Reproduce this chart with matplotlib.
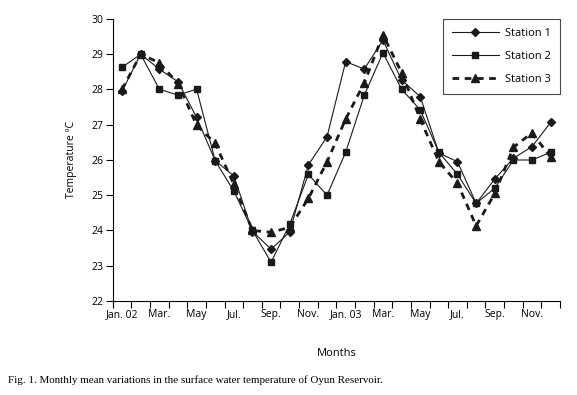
import numpy as np
import matplotlib
matplotlib.use('Agg')
import matplotlib.pyplot as plt

# ── Data (monthly means, Jan 2002 – Dec 2003) ────────────────────────────────
months = ['Jan. 02', 'Feb.', 'Mar.', 'Apr.', 'May', 'Jun.', 'Jul.', 'Aug.', 'Sep.', 'Oct.', 'Nov.', 'Dec.',
          'Jan. 03', 'Feb.', 'Mar.', 'Apr.', 'May', 'Jun.', 'Jul.', 'Aug.', 'Sep.', 'Oct.', 'Nov.', 'Dec.']
station1 = [27.95, 29.0, 28.58, 28.22, 27.21, 25.98, 25.55, 23.97, 23.47, 23.96, 25.86, 26.66,
            28.79, 28.58, 29.40, 28.27, 27.80, 26.20, 25.95, 24.77, 25.46, 26.05, 26.38, 27.07]
station2 = [28.63, 29.0, 28.01, 27.84, 28.01, 25.98, 25.12, 24.00, 23.10, 24.18, 25.59, 25.00,
            26.22, 27.84, 29.04, 28.01, 27.42, 26.22, 25.59, 24.77, 25.20, 26.00, 26.00, 26.22]
station3 = [28.00, 29.0, 28.76, 28.17, 26.99, 26.47, 25.31, 24.00, 23.95, 24.09, 24.91, 25.95,
            27.16, 28.19, 29.55, 28.48, 27.16, 25.95, 25.34, 24.13, 25.05, 26.36, 26.77, 26.08]
tick_labels = ['Jan. 02', 'Mar.', 'May', 'Jul.', 'Sep.', 'Nov.',
               'Jan. 03', 'Mar.', 'May', 'Jul.', 'Sep.', 'Nov.']

plt.rcParams['font.family'] = ['Open Sans', 'DejaVu Sans']

fig = plt.figure(figsize=(5.77, 3.95), dpi=100)
ax = fig.add_axes([112.7 / 577, 1 - 301 / 395, (560 - 112.7) / 577, (301 - 19) / 395])

x = np.arange(len(months))
ax.plot(x, station1, color='#1a1a1a', lw=0.8, marker='D', ms=4.2, label='Station 1')
ax.plot(x, station2, color='#1a1a1a', lw=0.8, marker='s', ms=4.8, label='Station 2')
ax.plot(x, station3, color='#1a1a1a', lw=2.0, ls=(0, (2.4, 2.0)), marker='^', ms=5.5,
        label='Station 3')

ax.set_xlim(-0.5, len(months) - 0.5)
ax.set_ylim(22, 30)
ax.set_yticks(range(22, 31))
ax.set_xticks(np.arange(-0.5, len(months), 1.0))
ax.set_xticklabels([])
ax.set_xticks(np.arange(0, len(months), 2), labels=tick_labels, minor=True)
ax.tick_params(axis='x', which='minor', length=0, pad=6, labelsize=7.5)
ax.tick_params(axis='x', which='major', direction='out', length=5, width=0.8)
ax.tick_params(axis='y', direction='out', length=5, width=0.8, labelsize=7.5, pad=2)

for s in ['top', 'right']:
    ax.spines[s].set_visible(False)
for s in ['left', 'bottom']:
    ax.spines[s].set_linewidth(0.8)

ax.set_ylabel('Temperature ºC', fontsize=7.5, labelpad=10)
ax.set_xlabel('Months', fontsize=8, labelpad=20)

leg = ax.legend(loc='upper right', bbox_to_anchor=(1.0, 1.0), fontsize=8, frameon=True,
                fancybox=False, edgecolor='#1a1a1a', handlelength=4.2, borderpad=0.8,
                labelspacing=1.1, borderaxespad=0.0, handletextpad=0.6)
leg.get_frame().set_linewidth(0.8)

fig.text(8 / 577, 1 - 380 / 395, 'Fig. 1. Monthly mean variations in the surface water temperature of Oyun Reservoir.',
         fontsize=7.9, family=['Liberation Serif', 'DejaVu Serif'], va='center', ha='left')

fig.savefig('out.png', dpi=100)
